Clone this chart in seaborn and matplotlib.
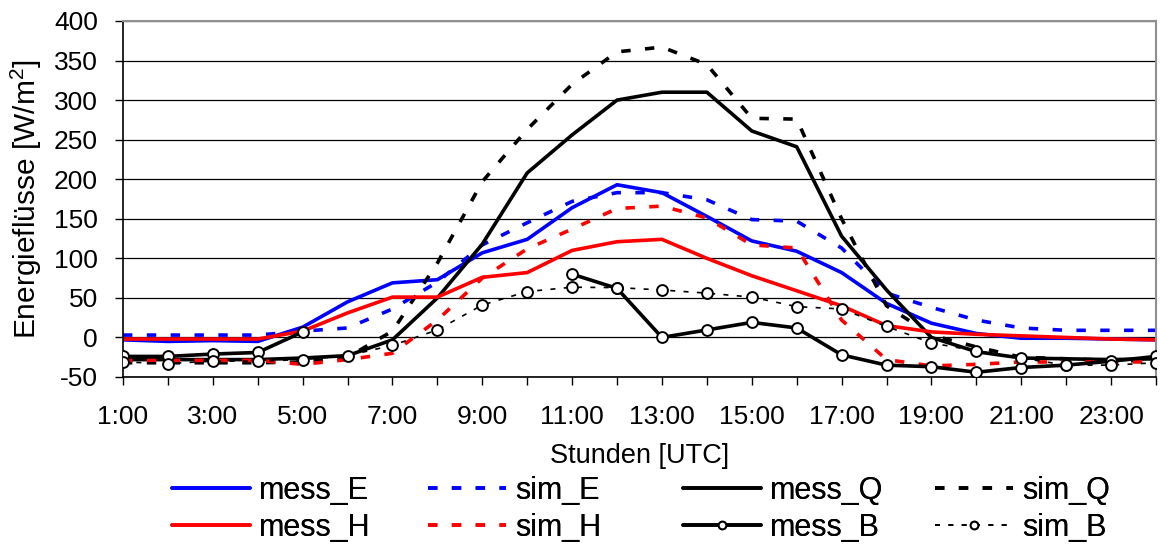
import numpy as np
import pandas as pd
import matplotlib
matplotlib.use("Agg")
import matplotlib.pyplot as plt
from matplotlib.lines import Line2D
import seaborn as sns

# Hourly energy fluxes [W/m^2], measured (mess) and simulated (sim)
hours = list(range(1, 25))
hour_labels = [f"{h}:00" if h % 2 == 1 else "" for h in hours]

mess_E = [-3, -5, -4, -5, 13, 45, 69, 73, 107, 124, 164, 193, 183, 153, 122, 109, 82, 43, 18, 5, -1, -1, -2, -3]
sim_E = [3, 3, 3, 3, 8, 12, 36, 70, 117, 145, 172, 183, 183, 174, 149, 147, 113, 56, 38, 22, 12, 9, 9, 9]
mess_H = [-2, -2, -2, -2, 8, 31, 51, 51, 76, 82, 110, 121, 124, 100, 78, 59, 40, 15, 7, 4, 2, 0, -2, -3]
sim_H = [-29, -29, -29, -29, -34, -28, -20, 22, 75, 112, 137, 163, 166, 151, 117, 113, 22, -28, -36, -34, -31, -31, -31, -31]
mess_Q = [-28, -28, -28, -28, -26, -23, -3, 50, 118, 208, 256, 300, 310, 310, 261, 241, 128, 60, 0, -18, -26, -27, -28, -27]
sim_Q = [-32, -32, -32, -32, -31, -25, 8, 94, 197, 263, 320, 361, 367, 345, 277, 276, 150, 40, 3, -12, -25, -27, -29, -30]
mess_B = [-24, -24, -21, -19, 7, np.nan, np.nan, np.nan, np.nan, np.nan, 80, 62, 0, 9.5, 19, 12, -22, -35, -37, -44, -38, -35, -30, -24]
sim_B = [-31, -33, -30, -30, -28, -23, -10, 9.5, 41, 58, 63.5, 63, 60, 56, 51, 39, 36, 14, -7, -17, -26, -35, -35, -32]

series = {
    "mess_E": mess_E, "sim_E": sim_E,
    "mess_Q": mess_Q, "sim_Q": sim_Q,
    "mess_H": mess_H, "sim_H": sim_H,
    "mess_B": mess_B, "sim_B": sim_B,
}

BLUE, RED, BLACK = "#0000FF", "#FF0000", "#000000"
LW = 2.6
DASH = (2.6, 4.0)
styles = {
    "mess_E": dict(color=BLUE, linewidth=LW),
    "sim_E": dict(color=BLUE, linewidth=LW, dashes=DASH),
    "mess_Q": dict(color=BLACK, linewidth=LW),
    "sim_Q": dict(color=BLACK, linewidth=LW, dashes=DASH),
    "mess_H": dict(color=RED, linewidth=LW),
    "sim_H": dict(color=RED, linewidth=LW, dashes=DASH),
    "mess_B": dict(color=BLACK, linewidth=LW, marker="o", markersize=7.8,
                   markerfacecolor="white", markeredgecolor=BLACK, markeredgewidth=1.4),
    "sim_B": dict(color=BLACK, linewidth=1.2, dashes=(3, 5), marker="o", markersize=7.8,
                  markerfacecolor="white", markeredgecolor=BLACK, markeredgewidth=1.4),
}

sns.set_style("white")
plt.rcParams["font.family"] = ["Liberation Sans", "DejaVu Sans"]
plt.rcParams["mathtext.fontset"] = "custom"
plt.rcParams["mathtext.rm"] = "Liberation Sans"
plt.rcParams["axes.unicode_minus"] = False
for key in ["text.color", "axes.labelcolor", "xtick.color", "ytick.color"]:
    plt.rcParams[key] = "black"

W, H = 1160, 545
fig = plt.figure(figsize=(W / 100, H / 100), dpi=100)
left, right, top, bottom = 123, 1156, 21, 377
ax = fig.add_axes([left / W, 1 - bottom / H, (right - left) / W, (bottom - top) / H])

# horizontal grid
for yv in range(-50, 401, 50):
    ax.axhline(yv, color="#000000", linewidth=0.9, zorder=0.5)

for name, vals in series.items():
    v = np.asarray(vals, dtype=float)
    seg = np.cumsum(np.isnan(v))
    df = pd.DataFrame({"hour": hours, "value": v, "seg": seg}).dropna()
    sns.lineplot(data=df, x="hour", y="value", units="seg", estimator=None,
                 sort=False, ax=ax, legend=False, zorder=3 if "B" in name else 2,
                 **styles[name])

ax.set_xlim(1, 24)
ax.set_ylim(-50, 400)
ax.set_yticks(range(-50, 401, 50))
ax.set_xticks(hours)
ax.set_xticklabels(hour_labels)
ax.tick_params(axis="both", labelsize=19, direction="out", length=6, width=1.0,
               colors="black", bottom=True, left=True)
ax.tick_params(axis="x", pad=14)
ax.tick_params(axis="y", pad=12)
for s in ["left", "bottom"]:
    ax.spines[s].set_color("black")
    ax.spines[s].set_linewidth(1.2)
for s in ["top", "right"]:
    ax.spines[s].set_color("#909090")
    ax.spines[s].set_linewidth(1.5)

ax.set_xlabel("Stunden [UTC]", fontsize=19.5, labelpad=10, color="black")
ax.set_ylabel(r"Energieflüsse [W/m$^2$]", fontsize=21.5, labelpad=7, color="black")

# legend: four columns of two entries each
columns = [("mess_E", "mess_H"), ("sim_E", "sim_H"), ("mess_Q", "mess_B"), ("sim_Q", "sim_B")]
col_x = [172, 428, 683, 935]
for names, x0 in zip(columns, col_x):
    handles = []
    for name in names:
        st = dict(styles[name])
        if "markersize" in st:
            st["markersize"] = 5.5
        handles.append(Line2D([], [], label=name, **st))
    leg = fig.legend(handles=handles, ncol=1, loc="upper left",
                     bbox_to_anchor=(x0 / W, 1 - 476 / H), frameon=False,
                     fontsize=22, handlelength=2.55, handletextpad=0.3,
                     labelspacing=0.22, borderaxespad=0, borderpad=0)
    for t in leg.get_texts():
        t.set_color("black")
    fig.add_artist(leg)

fig.savefig("out.png", dpi=100)
